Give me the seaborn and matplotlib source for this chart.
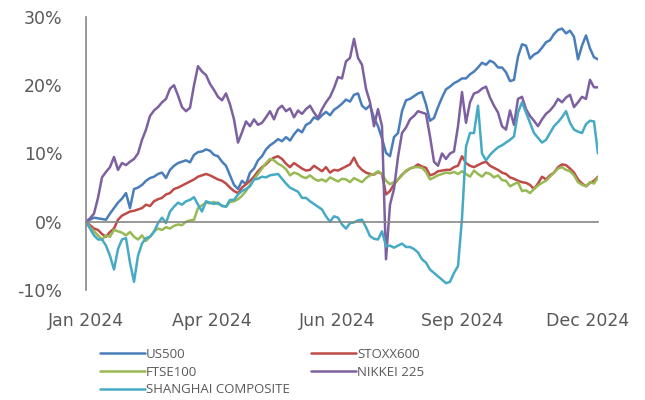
import numpy as np
import pandas as pd
import matplotlib
matplotlib.use("Agg")
import matplotlib.pyplot as plt
import seaborn as sns

# Cumulative 2024 performance (%) of major equity indices, sampled at regular trading-day steps
us500 = [0, 0.3, 0.6, 0.5, 0.4, 0.3, 1.2, 2.0, 2.8, 3.4,
         4.2, 2.0, 4.8, 5.0, 5.4, 6.0, 6.4, 6.6, 7.0, 7.2,
         6.4, 7.6, 8.2, 8.6, 8.8, 9.0, 8.7, 9.8, 10.2, 10.3,
         10.6, 10.4, 9.8, 9.6, 8.8, 8.2, 6.8, 5.4, 4.8, 6.0,
         5.5, 7.2, 7.8, 9.0, 9.6, 10.6, 11.2, 11.6, 12.1, 11.8,
         12.4, 11.9, 12.8, 13.5, 13.1, 14.2, 14.5, 15.3, 15.0, 15.6,
         16.1, 15.6, 16.4, 16.8, 17.3, 17.9, 17.6, 18.6, 18.8, 17.0,
         16.5, 17.1, 15.2, 14.0, 12.2, 10.1, 9.6, 12.4, 13.0, 16.2,
         17.8, 18.0, 18.4, 18.8, 19.0, 17.2, 14.8, 15.2, 16.8, 18.2,
         19.4, 19.8, 20.3, 20.6, 21.0, 21.0, 21.6, 22.0, 22.6, 23.3,
         23.0, 23.6, 23.3, 22.6, 22.6, 21.9, 20.6, 20.8, 24.2, 26.0,
         25.8, 23.9, 24.5, 24.8, 25.5, 26.3, 26.6, 27.5, 28.1, 28.3,
         27.6, 28.0, 27.1, 23.8, 25.8, 27.3, 25.4, 24.1, 23.8]

stoxx600 = [0, -0.5, -1.0, -1.2, -1.8, -2.2, -1.5, -1.0, 0.3, 0.9,
            1.2, 1.5, 1.6, 1.8, 2.0, 2.5, 2.3, 3.0, 3.3, 3.5,
            4.0, 4.2, 4.8, 5.0, 5.3, 5.6, 5.9, 6.2, 6.6, 6.8,
            7.0, 6.8, 6.5, 6.2, 6.0, 5.6, 5.0, 4.5, 4.2, 5.0,
            5.5, 6.0, 6.6, 7.4, 8.0, 8.4, 9.0, 9.4, 9.6, 9.2,
            8.5, 8.0, 8.6, 8.2, 7.8, 7.5, 7.6, 8.2, 7.8, 7.4,
            8.0, 7.2, 7.6, 7.5, 7.8, 8.1, 8.4, 9.4, 8.2, 7.6,
            7.2, 7.0, 6.9, 7.3, 7.0, 4.0, 4.5, 5.5, 6.2, 6.9,
            7.4, 7.8, 8.0, 8.4, 8.1, 7.9, 6.8, 7.0, 7.4, 7.5,
            7.6, 7.6, 8.0, 8.2, 9.6, 8.6, 8.2, 8.0, 8.3, 8.6,
            8.8, 8.2, 7.9, 7.6, 7.2, 7.0, 6.5, 6.3, 6.0, 5.8,
            5.7, 5.4, 4.8, 5.6, 6.6, 6.2, 6.8, 7.2, 8.0, 8.4,
            8.3, 7.8, 7.2, 6.2, 5.6, 5.2, 5.7, 6.0, 6.6]

ftse100 = [0, -0.8, -1.4, -2.0, -2.6, -2.0, -2.2, -1.2, -1.4, -1.6,
           -2.0, -1.5, -2.2, -2.6, -2.0, -2.8, -2.2, -1.4, -1.0, -1.2,
           -0.8, -1.0, -0.6, -0.4, -0.5, 0.0, 0.2, 0.3, 2.0, 2.4,
           2.8, 2.7, 2.9, 2.6, 2.4, 2.2, 2.9, 3.0, 3.3, 3.8,
           4.5, 5.4, 6.2, 7.0, 7.8, 8.6, 9.2, 9.0, 8.5, 8.2,
           7.7, 6.8, 7.2, 7.0, 6.6, 6.4, 6.8, 6.3, 6.0, 6.2,
           5.9, 6.5, 6.2, 5.9, 6.3, 6.2, 5.8, 6.4, 6.1, 5.8,
           6.4, 6.8, 7.0, 7.4, 7.0, 6.0, 5.5, 5.8, 6.2, 6.8,
           7.5, 7.8, 8.0, 8.0, 7.9, 7.3, 6.2, 6.5, 6.8, 7.0,
           7.2, 7.1, 7.3, 7.0, 7.4, 7.0, 6.6, 7.5, 7.0, 6.6,
           7.2, 7.0, 6.5, 6.8, 6.1, 6.0, 5.2, 5.5, 5.8, 4.5,
           4.6, 4.2, 4.8, 5.3, 5.7, 6.0, 6.6, 7.2, 7.8, 8.0,
           7.6, 7.4, 6.8, 5.8, 5.4, 5.2, 5.8, 5.6, 6.5]

nikkei225 = [0, 0.5, 1.2, 3.5, 6.5, 7.3, 8.0, 9.5, 7.6, 8.6,
             8.3, 8.8, 9.2, 10.0, 12.0, 13.5, 15.5, 16.3, 16.8, 17.5,
             18.0, 19.5, 20.0, 18.5, 16.8, 16.2, 16.7, 20.0, 22.8, 22.0,
             21.5, 20.2, 19.3, 18.3, 17.8, 18.8, 17.2, 15.0, 11.6, 13.1,
             14.7, 14.0, 15.0, 14.2, 14.5, 15.3, 16.2, 15.0, 16.5, 17.0,
             16.2, 16.6, 15.3, 16.3, 15.8, 16.5, 17.0, 16.0, 15.2, 16.5,
             17.5, 18.3, 19.6, 21.2, 21.0, 23.5, 24.0, 26.8, 24.0, 23.0,
             19.5, 17.5, 14.0, 16.5, 14.0, -5.5, 2.5, 4.8, 9.5, 13.0,
             13.8, 15.0, 15.5, 16.2, 16.0, 15.8, 12.5, 8.8, 8.2, 10.0,
             9.2, 10.0, 10.3, 14.0, 19.0, 14.5, 17.5, 18.8, 19.0, 19.5,
             19.8, 18.2, 17.0, 16.0, 14.0, 13.5, 16.3, 14.2, 18.0, 18.3,
             16.5, 15.5, 14.8, 14.0, 15.0, 15.8, 16.3, 17.0, 18.0, 17.5,
             18.2, 18.6, 16.8, 17.5, 18.3, 18.0, 20.8, 19.7, 19.7]

shanghai = [0, -1.0, -2.0, -2.6, -2.6, -3.5, -5.0, -7.0, -4.0, -2.6,
            -2.4, -6.0, -8.8, -5.0, -3.2, -2.4, -2.2, -1.5, -0.2, 0.6,
            -0.2, 1.5, 2.2, 2.8, 2.5, 3.0, 3.2, 3.6, 2.5, 1.5,
            3.0, 2.8, 2.6, 2.8, 2.3, 2.2, 3.2, 3.2, 4.0, 4.5,
            4.8, 5.2, 6.2, 6.3, 6.6, 6.5, 6.8, 6.9, 7.0, 6.3,
            5.6, 5.0, 4.7, 4.4, 3.5, 3.5, 3.0, 2.6, 2.2, 1.8,
            0.8, 0.0, 0.8, 0.6, -0.4, -1.0, -0.2, -0.1, 0.2, 0.3,
            -0.8, -2.1, -2.5, -2.6, -1.4, -3.6, -3.5, -3.8, -3.5, -3.2,
            -3.7, -3.7, -4.0, -4.5, -5.5, -6.0, -7.0, -7.5, -8.0, -8.5,
            -9.0, -8.8, -7.5, -6.5, 0.5, 11.0, 13.0, 13.0, 17.0, 10.0,
            9.0, 9.8, 10.4, 10.9, 11.2, 11.6, 12.0, 12.5, 16.0, 17.5,
            16.0, 14.5, 13.0, 12.3, 11.6, 12.0, 13.0, 14.0, 14.6, 15.3,
            16.2, 14.5, 13.5, 13.2, 13.0, 14.3, 14.8, 14.7, 10.0]

series_names = ["US500", "STOXX600", "FTSE100", "NIKKEI 225", "SHANGHAI COMPOSITE"]
series_values = [us500, stoxx600, ftse100, nikkei225, shanghai]
series_colors = ["#4A7EBB", "#BE4B48", "#98B954", "#7D60A0", "#46AAC5"]
tick_labels = ["Jan 2024", "Apr 2024", "Jun 2024", "Sep 2024", "Dec 2024"]

frames = []
for name, vals in zip(series_names, series_values):
    frames.append(pd.DataFrame({"day": np.arange(len(vals)), "pct": vals, "index": name}))
df = pd.concat(frames, ignore_index=True)

sns.set_style("white")
plt.rcParams["font.family"] = ["DejaVu Sans"]
text_color = "#595959"
axis_color = "#868686"

fig = plt.figure(figsize=(6.45, 4.0), dpi=100)
ax = fig.add_axes([86 / 645, 1 - 290 / 400, (598 - 86) / 645, (290 - 17) / 400])

sns.lineplot(data=df, x="day", y="pct", hue="index", hue_order=series_names,
             palette=dict(zip(series_names, series_colors)), linewidth=1.8,
             legend=False, ax=ax, sort=False)

n = len(us500)
ax.set_xlim(0, n - 1)
ax.set_ylim(-10, 30)

# y axis
ax.set_yticks([-10, 0, 10, 20, 30])
ax.set_yticklabels([f"{v}%" for v in [-10, 0, 10, 20, 30]])
ax.tick_params(axis="y", length=0, pad=17, labelsize=12.5, labelcolor=text_color)
ax.set_ylabel("")
ax.set_xlabel("")

for side in ["top", "right"]:
    ax.spines[side].set_visible(False)
ax.spines["left"].set_color(axis_color)
ax.spines["left"].set_linewidth(1.2)

# category axis drawn at the zero line, labels kept at the bottom
tick_step = 94 / 3
tick_pos = [tick_step * k for k in range(len(tick_labels))]
ax.spines["bottom"].set_position(("data", 0))
ax.spines["bottom"].set_color(axis_color)
ax.spines["bottom"].set_linewidth(1.2)
ax.set_xticks(tick_pos)
ax.tick_params(axis="x", direction="out", length=4, width=1, color=axis_color,
               labelbottom=False)

sec = ax.secondary_xaxis(0.0)
sec.set_xticks(tick_pos)
sec.set_xticklabels(tick_labels)
sec.tick_params(length=0, pad=16, labelsize=12.5, labelcolor=text_color)
sec.spines["bottom"].set_visible(False)

# legend: two columns, row-wise order
lines = ax.get_lines()
handles = {name: line for name, line in zip(series_names, lines)}
order = ["US500", "FTSE100", "SHANGHAI COMPOSITE", "STOXX600", "NIKKEI 225"]
leg = fig.legend([handles[k] for k in order], order, ncol=2, frameon=False,
                 loc="upper left", bbox_to_anchor=(100 / 645, 1 - 348 / 400),
                 borderpad=0, borderaxespad=0, handlelength=3.4, handletextpad=0.1,
                 columnspacing=1.6, labelspacing=0.35,
                 prop={"family": ["Open Sans", "DejaVu Sans"], "size": 9.5})
for t in leg.get_texts():
    t.set_color(text_color)

fig.savefig("out.png", dpi=100, facecolor="white")
